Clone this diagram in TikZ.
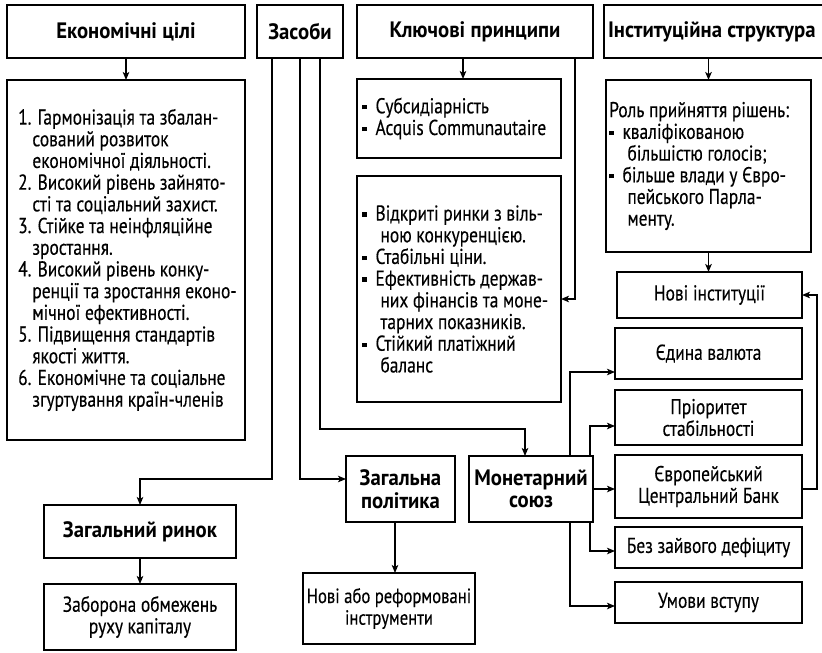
\documentclass[tikz,border=0pt]{standalone}
\usepackage{fontspec}
\setmainfont{PT Sans}[FakeStretch=0.81, FakeBold=0.3]
\newfontfamily\headfont{PT Sans}[FakeStretch=0.93]
\usetikzlibrary{arrows.meta}
% small square bullet and hanging indents for the lists
\newcommand\sqb{\makebox[0.62em][l]{\raisebox{0.18em}{\rule{0.2em}{0.2em}}}}
\newcommand\bind{\hspace*{0.85em}}
\newcommand\nind{\hspace*{0.66em}}

\begin{document}
\begin{tikzpicture}[x=1pt,y=-1pt,
  frame/.style={draw, line width=2.4pt, inner sep=0pt, outer sep=0pt, anchor=north west},
  box/.style={frame, font=\fontsize{21.5}{21.7}\selectfont},
  head/.style={frame, align=center, font=\fontsize{22.3}{22.5}\selectfont\headfont\bfseries},
  txt/.style={inner sep=0pt, align=left, font=\fontsize{21.5}{21.7}\selectfont},
  cbox/.style={box, align=center},
  link/.style={line width=1.4pt},
  arr/.style={link, -{Stealth[length=8pt,width=6.5pt,inset=2pt]}},
]
\useasboundingbox (0,0) rectangle (822,653);
\clip (0,0) rectangle (822,653);

% header row
\node[head, minimum width=238, minimum height=53] (ec) at (7,5) {Економічні цілі};
\node[head, minimum width=86, minimum height=53] (zas) at (257,5) {Засоби};
\node[head, minimum width=236, minimum height=53] (kp) at (357,5) {Ключові принципи};
\node[head, minimum width=240, minimum height=53] (inst) at (604,5) {};
\node[head, draw=none, anchor=west, minimum height=0pt] (instt) at ([xshift=4pt]inst.west) {Інституційна структура};

% economic goals
\node[frame, minimum width=238, minimum height=360] (goals) at (7,80) {};
\node[txt, anchor=west] (goalst) at ([xshift=11pt]goals.west) {%
1. Гармонізація та збалан-\\
\nind сований розвиток\\
\nind економічної діяльності.\\
2. Високий рівень зайнято-\\
\nind сті та соціальний захист.\\
3. Стійке та неінфляційне\\
\nind зростання.\\
4. Високий рівень конку-\\
\nind ренції та зростання еконо-\\
\nind мічної ефективності.\\
5. Підвищення стандартів\\
\nind якості життя.\\
6. Економічне та соціальне\\
\nind згуртування країн-членів};

% key principles
\node[frame, minimum width=204, minimum height=79] (subs) at (357,79) {};
\node[txt, anchor=west] (subst) at ([xshift=5pt]subs.west) {%
\sqb Субсидіарність\\
\sqb Acquis Communautaire};
\node[frame, minimum width=204, minimum height=226] (vid) at (357,176) {};
\node[txt, anchor=west] (vidt) at ([xshift=5pt]vid.west) {%
\sqb Відкриті ринки з віль-\\
\bind ною конкуренцією.\\
\sqb Стабільні ціни.\\
\sqb Ефективність держав-\\
\bind них фінансів та моне-\\
\bind тарних показників.\\
\sqb Стійкий платіжний\\
\bind баланс};

% institutional structure
\node[frame, minimum width=205, minimum height=172] (rol) at (606,80) {};
\node[txt, anchor=west] (rolt) at ([xshift=3pt]rol.west) {%
Роль прийняття рішень:\\
\sqb кваліфікованою\\
\bind більшістю голосів;\\
\sqb більше влади у Євро-\\
\bind пейського Парла-\\
\bind менту.};

% right column
\node[cbox, minimum width=185, minimum height=46] (nove) at (617,272) {Нові інституції};
\node[cbox, minimum width=187, minimum height=51] (ev) at (615,328) {Єдина валюта};
\node[cbox, minimum width=187, minimum height=55] (prior) at (615,390) {Пріоритет\\стабільності};
\node[cbox, minimum width=187, minimum height=63] (ecb) at (615,455) {Європейський\\Центральний Банк};
\node[cbox, minimum width=187, minimum height=41] (bez) at (615,527) {Без зайвого дефіциту};
\node[cbox, minimum width=187, minimum height=41] (umovy) at (615,582) {Умови вступу};

% lower part
\node[head, minimum width=192, minimum height=53] (zr) at (44,505) {Загальний ринок};
\node[cbox, minimum width=192, minimum height=66] (zob) at (44,584) {Заборона обмежень\\руху капіталу};
\node[head, minimum width=109, minimum height=66] (zp) at (346,456) {Загальна\\політика};
\node[cbox, minimum width=172, minimum height=71, font=\fontsize{20.6}{21.7}\selectfont] (nri) at (303,573) {Нові або реформовані\\інструменти};
\node[head, minimum width=124, minimum height=66] (ms) at (469,456) {Монетарний\\союз};

% routing positions
\coordinate (kpx) at (463,0);
\coordinate (kpr) at (575,0);
\coordinate (kpy) at (0,299);
\coordinate (zx1) at (272,0);
\coordinate (zx3) at (320,0);
\coordinate (zy) at (0,479);
\coordinate (zy3) at (0,429);
\coordinate (msx) at (525,0);
\coordinate (zpx) at (395,0);
\coordinate (ma) at (570,0);
\coordinate (mb) at (590,0);
\coordinate (ey) at (0,372);
\coordinate (py) at (0,426);
\coordinate (by) at (0,551);
\coordinate (uy) at (0,606);
\coordinate (rx) at (817,0);

% connectors
\draw[arr] (ec.south) -- (goals.north);
\draw[arr] (kp.south -| kpx) -- (subs.north -| kpx);
\draw[arr] (kp.south -| kpr) -- (kpr |- kpy) -- (vid.east |- kpy);
\draw[arr] (inst.south -| rol.north) -- (rol.north);
\draw[arr] (rol.south) -- (nove.north -| rol.south);

\draw[arr] (zas.south -| zx1) -- (zx1 |- zy) -| (zr.north);
\draw[arr] (zas.south) -- (zas.south |- zy) -- (zp.west |- zy);
\draw[arr] (zas.south -| zx3) -- (zx3 |- zy3) -| (ms.north -| msx);
\draw[arr] (zp.south -| zpx) -- (nri.north -| zpx);
\draw[arr] (zr.south) -- (zob.north);

\draw[arr] (ms.north -| ma) |- (ev.west |- ey);
\draw[arr] (ms.north -| mb) |- (prior.west |- py);
\draw[arr] (ms.east) -- (ecb.west |- ms.east);
\draw[arr] (ms.south -| mb) |- (bez.west |- by);
\draw[arr] (ms.south -| ma) |- (umovy.west |- uy);
\draw[arr] (ecb.east |- ms.east) -| (rx |- nove.east) -- (nove.east);
\end{tikzpicture}
\end{document}
